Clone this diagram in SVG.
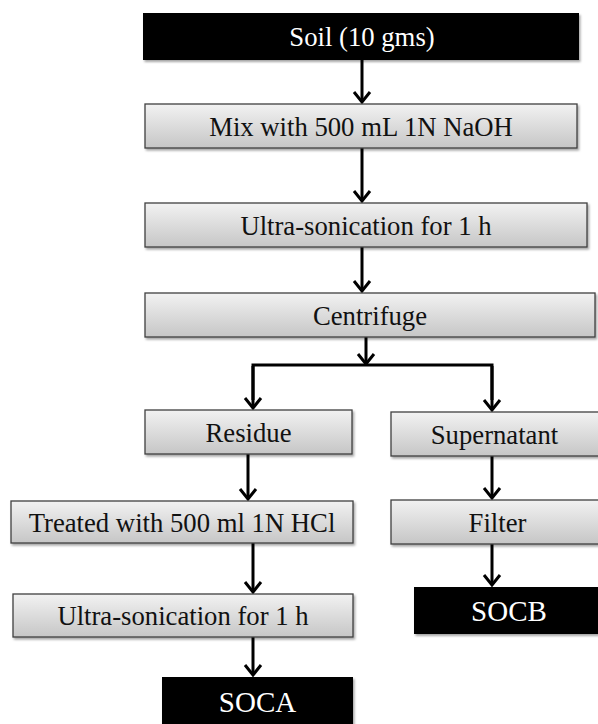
<svg xmlns="http://www.w3.org/2000/svg" width="598" height="724" viewBox="0 0 598 724">
<defs>
<linearGradient id="g" x1="0" y1="0" x2="0" y2="1">
<stop offset="0" stop-color="#f2f2f2"/>
<stop offset="1" stop-color="#c6c6c6"/>
</linearGradient>
<filter id="sh" x="-5%" y="-20%" width="115%" height="150%">
<feDropShadow dx="1.5" dy="2" stdDeviation="1.2" flood-color="#000" flood-opacity="0.35"/>
</filter>
<marker id="ah" viewBox="0 0 14 20" markerWidth="14" markerHeight="20" refX="12" refY="10" orient="auto" markerUnits="userSpaceOnUse">
<path d="M2,2 L12,10 L2,18" fill="none" stroke="#000" stroke-width="3" stroke-linejoin="miter"/>
</marker>
</defs>
<style>
.gb{fill:url(#g);stroke:#404040;stroke-width:1.3;filter:url(#sh)}
.bb{fill:#000;filter:url(#sh)}
.t{font-family:"Liberation Serif","Times New Roman",serif;font-size:26.7px;fill:#111;text-anchor:middle}
.w{font-family:"Liberation Serif","Times New Roman",serif;font-size:29px;fill:#fff;text-anchor:middle}
.c{fill:none;stroke:#000;stroke-width:3}
.ca{fill:none;stroke:#000;stroke-width:3;marker-end:url(#ah)}
</style>
<g id="connectors">
<line class="ca" x1="362" y1="60" x2="362" y2="102"/>
<line class="ca" x1="362" y1="148" x2="362" y2="201"/>
<line class="ca" x1="362" y1="247" x2="362" y2="291"/>
<line class="ca" x1="366" y1="337" x2="366" y2="364"/>
<polyline class="c" points="253,400 253,365 492,365 492,400"/>
<line class="ca" x1="253" y1="366" x2="253" y2="408"/>
<line class="ca" x1="492" y1="366" x2="492" y2="410"/>
<line class="ca" x1="248" y1="454" x2="248" y2="499"/>
<line class="ca" x1="253" y1="543" x2="253" y2="592"/>
<line class="ca" x1="253" y1="637" x2="253" y2="675"/>
<line class="ca" x1="492" y1="456" x2="492" y2="498"/>
<line class="ca" x1="492" y1="544" x2="492" y2="585"/>
</g>
<g id="soil">
<rect class="bb" x="143" y="13" width="436" height="47"/>
<text class="w" x="362" y="46" style="font-size:26.7px">Soil (10 gms)</text>
</g>
<g id="mix">
<rect class="gb" x="145" y="104" width="432" height="44"/>
<text class="t" x="361" y="135.5">Mix with 500 mL 1N NaOH</text>
</g>
<g id="ultra1">
<rect class="gb" x="145" y="203" width="442" height="44"/>
<text class="t" x="366" y="234.5">Ultra-sonication for 1 h</text>
</g>
<g id="centrifuge">
<rect class="gb" x="145" y="293" width="450" height="44"/>
<text class="t" x="370" y="324.5">Centrifuge</text>
</g>
<g id="residue">
<rect class="gb" x="145" y="410" width="207" height="44"/>
<text class="t" x="248.5" y="441.5">Residue</text>
</g>
<g id="supernatant">
<rect class="gb" x="391" y="412" width="212" height="44"/>
<text class="t" x="494.5" y="443.5">Supernatant</text>
</g>
<g id="treated">
<rect class="gb" x="11" y="501" width="342" height="42"/>
<text class="t" x="182" y="531.5">Treated with 500 ml 1N HCl</text>
</g>
<g id="filter">
<rect class="gb" x="391" y="500" width="212" height="44"/>
<text class="t" x="497.5" y="531.5">Filter</text>
</g>
<g id="ultra2">
<rect class="gb" x="13" y="594" width="340" height="43"/>
<text class="t" x="183" y="625">Ultra-sonication for 1 h</text>
</g>
<g id="socb">
<rect class="bb" x="414" y="587" width="190" height="47"/>
<text class="w" x="509" y="621">SOCB</text>
</g>
<g id="soca">
<rect class="bb" x="162" y="677" width="191" height="50"/>
<text class="w" x="257.5" y="711.5">SOCA</text>
</g>
</svg>
